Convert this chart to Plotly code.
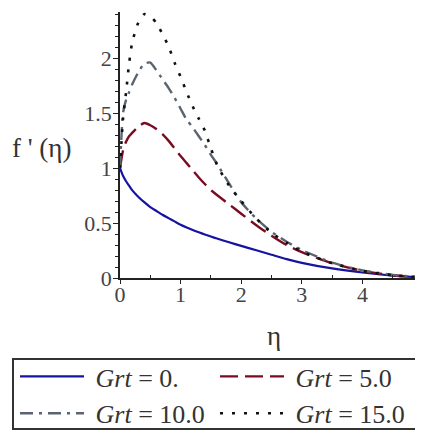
import plotly.graph_objects as go

eta = [0, 0.05, 0.1, 0.15, 0.2, 0.3, 0.4, 0.5, 0.6, 0.7, 0.8, 0.9, 1.0, 1.1, 1.2,
       1.3, 1.4, 1.5, 1.6, 1.8, 2.0, 2.25, 2.5, 2.75, 3.0, 3.5, 4.0, 4.5, 5.0]

grt0 = [1.00, 0.93, 0.88, 0.84, 0.80, 0.74, 0.69, 0.645, 0.61, 0.575, 0.545, 0.515, 0.485, 0.46, 0.437,
        0.416, 0.396, 0.377, 0.359, 0.325, 0.292, 0.252, 0.212, 0.172, 0.138, 0.087, 0.05, 0.022, 0.005]
grt5 = [1.00, 1.16, 1.24, 1.29, 1.32, 1.375, 1.41, 1.39, 1.355, 1.31, 1.25, 1.18, 1.11, 1.045, 0.98,
        0.915, 0.855, 0.80, 0.755, 0.67, 0.585, 0.48, 0.385, 0.30, 0.235, 0.135, 0.065, 0.025, 0.005]
grt10 = [1.00, 1.50, 1.62, 1.69, 1.76, 1.87, 1.95, 1.96, 1.89, 1.81, 1.73, 1.64, 1.54, 1.44, 1.37,
         1.29, 1.21, 1.12, 1.04, 0.86, 0.69, 0.54, 0.42, 0.33, 0.255, 0.14, 0.07, 0.028, 0.005]
grt15 = [1.00, 1.45, 1.69, 1.95, 2.14, 2.32, 2.40, 2.38, 2.32, 2.22, 2.11, 1.96, 1.83, 1.69, 1.56,
         1.45, 1.34, 1.18, 1.03, 0.84, 0.70, 0.54, 0.41, 0.32, 0.24, 0.135, 0.065, 0.025, 0.005]

names = ["\u00a0<i>Grt</i> = 0.", "\u00a0<i>Grt</i> = 5.0", "\u00a0<i>Grt</i> = 10.0", "\u00a0<i>Grt</i> = 15.0"]
series = [grt0, grt5, grt10, grt15]
colors = ["#1414a0", "#7a0c22", "#5a6470", "#111111"]
dashes = ["solid", "18px,7px", "13px,6px,3px,6px", "3px,9px"]
widths = [2.2, 2.4, 2.4, 2.6]

FONT = "Liberation Serif"

fig = go.Figure()
for n, s, c, d, w in zip(names, series, colors, dashes, widths):
    fig.add_trace(go.Scatter(x=eta, y=s, mode="lines", name=n,
                             line=dict(color=c, dash=d, width=w, shape="spline", smoothing=0.6)))

fig.update_layout(
    width=415, height=422,
    margin=dict(l=112, r=0, t=4, b=152, autoexpand=False),
    paper_bgcolor="white", plot_bgcolor="white",
    font=dict(family=FONT, color="#333333", size=22),
    showlegend=True,
    legend=dict(
        orientation="h", x=-0.3465, xanchor="left", y=-0.282, yanchor="top",
        font=dict(family=FONT, size=26, color="#333333"),
        borderwidth=0, bgcolor="rgba(0,0,0,0)",
        itemwidth=64, entrywidth=121, entrywidthmode="pixels",
        tracegroupgap=0, valign="middle",
    ),
    shapes=[
        dict(type="rect", xref="paper", yref="paper",
             x0=-0.3531, x1=0.9835, y0=-0.5677, y1=-0.3045,
             line=dict(color="#333333", width=2), fillcolor="rgba(0,0,0,0)", layer="below"),
    ],
    xaxis=dict(
        range=[0, 5], showgrid=False, zeroline=False,
        showline=True, linecolor="#222222", linewidth=1.6,
        tickmode="array", tickvals=[0, 1, 2, 3, 4, 5], ticktext=["0", "1", "2", "3", "4", "5"],
        ticks="outside", ticklen=4, tickwidth=1.3, tickcolor="#222222",
        minor=dict(tickvals=[0.5, 1.5, 2.5, 3.5, 4.5], ticks="inside", ticklen=3, tickcolor="#222222"),
        tickfont=dict(family=FONT, size=22, color="#444444"),
        ticklabelstandoff=-8, ticklabeloverflow="allow",
        fixedrange=True,
    ),
    yaxis=dict(
        range=[0, 2.42], showgrid=False, zeroline=False,
        showline=True, linecolor="#222222", linewidth=1.6,
        tickmode="array", tickvals=[0, 0.5, 1, 1.5, 2], ticktext=["0", "0.5", "1", "1.5", "2"],
        ticks="outside", ticklen=5, tickwidth=1.3, tickcolor="#222222",
        minor=dict(dtick=0.1, ticks="outside", ticklen=3, tickcolor="#222222"),
        tickfont=dict(family=FONT, size=22, color="#444444"),
        ticklabelstandoff=-3,
        fixedrange=True,
    ),
    annotations=[
        dict(text="f ' (η)", xref="paper", yref="paper", x=-0.26, y=0.49,
             xanchor="center", yanchor="middle", showarrow=False,
             font=dict(family=FONT, size=27, color="#333333")),
        dict(text="η", xref="paper", yref="paper", x=0.508, y=-0.218,
             xanchor="center", yanchor="middle", showarrow=False,
             font=dict(family=FONT, size=27, color="#333333")),
    ],
)

fig.write_html("out.html")
